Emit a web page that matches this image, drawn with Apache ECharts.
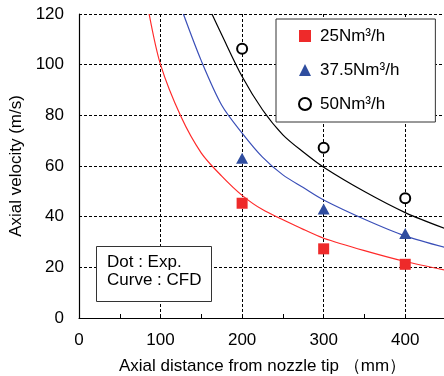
<!DOCTYPE html>
<html>
<head>
<meta charset="utf-8">
<script src="https://cdn.jsdelivr.net/npm/echarts@6/dist/echarts.min.js"></script>
<style>
  html, body { margin: 0; padding: 0; background: #fff; }
  #chart { width: 444px; height: 376px; }
</style>
</head>
<body>
<div id="chart"></div>
<script>
// measured points (Exp.)
const expX = [200, 300, 400]
const exp25 = [45.3, 27.3, 21.2]
const exp375 = [63.1, 43.0, 33.4]
const exp50 = [106.3, 67.2, 47.3]

// CFD curves
const cfd25X = [86, 100, 125, 150, 175, 200, 225, 275, 300, 350, 400, 448]
const cfd25Y = [120, 100, 79.5, 65.1, 56, 48.4, 42.8, 35, 31.5, 26.6, 22.3, 19]
const cfd375X = [128, 150, 175, 200, 225, 250, 275, 300, 350, 400, 448]
const cfd375Y = [120, 101.5, 84, 73, 63.5, 56.5, 51.5, 46.6, 39, 32.4, 27.9]
const cfd50X = [163, 175, 200, 225, 250, 275, 300, 350, 400, 448]
const cfd50Y = [120, 111.8, 95.3, 82.2, 72.3, 65.5, 59.5, 49.9, 41.6, 35.4]

const seriesNames = ['25Nm³/h', '37.5Nm³/h', '50Nm³/h']
const xTicks = [0, 100, 200, 300, 400]
const yTicks = [0, 20, 40, 60, 80, 100, 120]

const FONT = '"Liberation Sans", Arial, sans-serif'
const RED = '#ee2a2a'
const BLUE = '#2f4d9f'

const pairs = (xs, ys) => xs.map((x, i) => [x, ys[i]])

const chart = echarts.init(document.getElementById('chart'), null, { renderer: 'canvas' })

const option = {
  backgroundColor: '#fff',
  animation: false,
  textStyle: { fontFamily: FONT },
  grid: { left: 79, right: -2, top: 14, bottom: 58, outerBoundsMode: 'none' },
  xAxis: {
    type: 'value',
    min: xTicks[0],
    max: 450,
    interval: 100,
    name: 'Axial distance from nozzle tip （mm）',
    nameLocation: 'middle',
    nameGap: 40,
    nameTextStyle: { fontSize: 17, color: '#000', fontFamily: FONT },
    axisLine: { lineStyle: { color: '#000', width: 1.2 } },
    axisTick: { inside: true, length: 4, lineStyle: { color: '#000' } },
    minorTick: { show: true, splitNumber: 2, length: 4, lineStyle: { color: '#000' } },
    axisLabel: { fontSize: 17, color: '#000', margin: 14, showMaxLabel: false, fontFamily: FONT },
    splitLine: { show: true, lineStyle: { color: '#000', type: [3, 2], width: 1 } }
  },
  yAxis: {
    type: 'value',
    min: yTicks[0],
    max: yTicks[yTicks.length - 1],
    interval: 20,
    name: 'Axial velocity (m/s)',
    nameLocation: 'middle',
    nameGap: 50,
    nameTextStyle: { fontSize: 17, color: '#000', fontFamily: FONT },
    axisLine: { show: true, lineStyle: { color: '#000', width: 1.2 } },
    axisTick: { show: false },
    axisLabel: { fontSize: 17, color: '#000', margin: 15, fontFamily: FONT },
    splitLine: { show: true, lineStyle: { color: '#000', type: [3, 2], width: 1 } }
  },
  legend: {
    orient: 'vertical',
    left: 276,
    top: 19,
    backgroundColor: '#fff',
    borderColor: '#333',
    borderWidth: 1,
    padding: [7, 36, 8, 22],
    itemWidth: 12,
    itemHeight: 12,
    itemGap: 14,
    textStyle: { fontSize: 17, color: '#000', lineHeight: 20, padding: [0, 0, 0, 4], fontFamily: FONT },
    data: [
      { name: seriesNames[0], icon: 'rect' },
      { name: seriesNames[1], icon: 'triangle' },
      { name: seriesNames[2], icon: 'emptyCircle' }
    ]
  },
  graphic: [{
    type: 'rect',
    left: 96,
    top: 246,
    z: 100,
    shape: { width: 115, height: 55 },
    style: { fill: '#fff', stroke: '#333', lineWidth: 1 }
  }, {
    type: 'text',
    left: 107,
    top: 253,
    z: 101,
    style: {
      text: 'Dot : Exp.\nCurve : CFD',
      font: '17px ' + FONT,
      fill: '#000',
      lineHeight: 18
    }
  }],
  series: [
    {
      name: 'cfd25', type: 'line', smooth: 0.3, symbol: 'none',
      data: pairs(cfd25X, cfd25Y),
      lineStyle: { color: '#ff2a2a', width: 1.2 }, z: 2
    },
    {
      name: 'cfd375', type: 'line', smooth: 0.3, symbol: 'none',
      data: pairs(cfd375X, cfd375Y),
      lineStyle: { color: '#3a4fb8', width: 1.2 }, z: 2
    },
    {
      name: 'cfd50', type: 'line', smooth: 0.3, symbol: 'none',
      data: pairs(cfd50X, cfd50Y),
      lineStyle: { color: '#000', width: 1.2 }, z: 2
    },
    {
      name: seriesNames[0], type: 'scatter', symbol: 'rect', symbolSize: 11,
      data: pairs(expX, exp25),
      itemStyle: { color: RED, opacity: 1 }, z: 5
    },
    {
      name: seriesNames[1], type: 'scatter', symbol: 'triangle', symbolSize: [12, 11],
      data: pairs(expX, exp375),
      itemStyle: { color: BLUE, opacity: 1 }, z: 5
    },
    {
      name: seriesNames[2], type: 'scatter', symbol: 'emptyCircle', symbolSize: 10,
      data: pairs(expX, exp50),
      itemStyle: { color: '#000', borderWidth: 1.2, opacity: 1 }, z: 5
    }
  ]
}

chart.setOption(option)
</script>
</body>
</html>
